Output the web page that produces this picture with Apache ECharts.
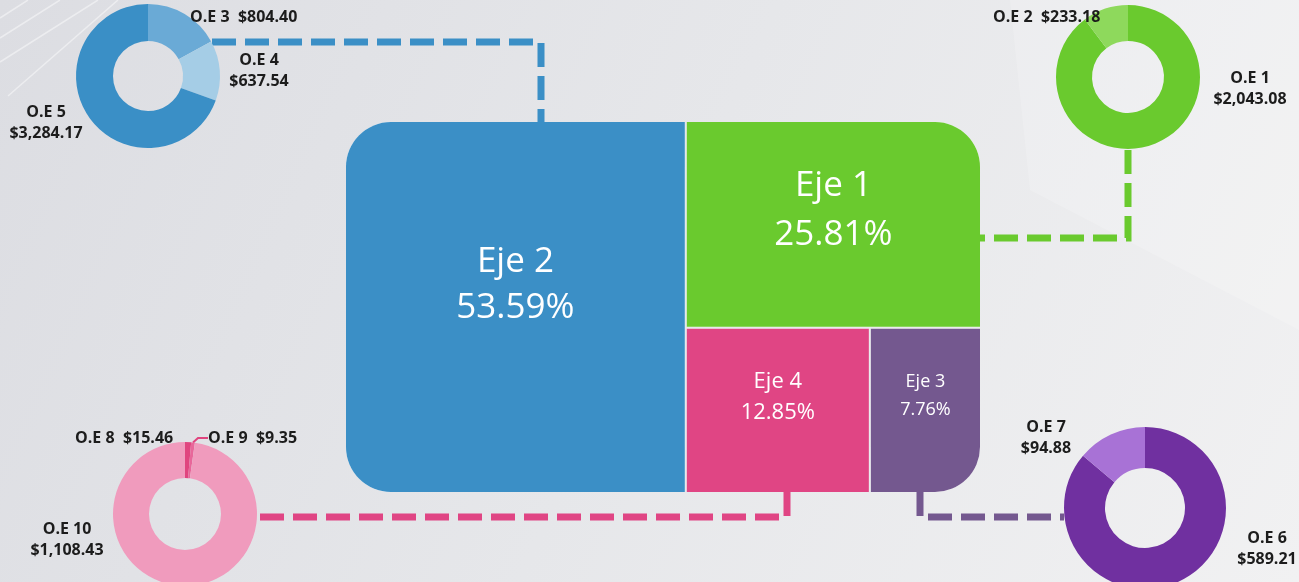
<!DOCTYPE html>
<html>
<head>
<meta charset="utf-8">
<script src="https://cdn.jsdelivr.net/npm/echarts@6/dist/echarts.min.js"></script>
<style>
  html, body { margin: 0; padding: 0; }
  #chart { width: 1299px; height: 582px; }
</style>
</head>
<body>
<div id="chart"></div>
<script>
// ejes (porcentaje del total)
var ejeNames = ['Eje 2', 'Eje 1', 'Eje 4', 'Eje 3'];
var ejeShare = [53.59, 25.81, 12.85, 7.76];
var ejeColors = ['#3b8fc6', '#6aca2e', '#e04584', '#74588f'];

// objetivos estrategicos por eje
var oeEje2Names = ['O.E 3', 'O.E 4', 'O.E 5'];
var oeEje2Values = [804.40, 637.54, 3284.17];
var oeEje1Names = ['O.E 1', 'O.E 2'];
var oeEje1Values = [2043.08, 233.18];
var oeEje4Names = ['O.E 8', 'O.E 9', 'O.E 10'];
var oeEje4Values = [15.46, 9.35, 1108.43];
var oeEje3Names = ['O.E 6', 'O.E 7'];
var oeEje3Values = [589.21, 94.88];

function money(v) {
    return '$' + v.toLocaleString('en-US', {minimumFractionDigits: 2, maximumFractionDigits: 2});
}

var chart = echarts.init(document.getElementById('chart'));

var cornerRadius = {
    'Eje 2': [45, 0, 0, 45],
    'Eje 1': [0, 45, 0, 0],
    'Eje 4': 0,
    'Eje 3': [0, 0, 45, 0]
};
// font size, line height, vertical shift
var labelStyle = {
    'Eje 2': [35, 46, -22],
    'Eje 1': [35, 49, -14],
    'Eje 4': [22, 31, -13],
    'Eje 3': [18, 28, -15]
};

var treeData = ejeNames.map(function(n, i) {
    var s = labelStyle[n];
    return {
        name: n,
        value: ejeShare[i],
        itemStyle: {color: ejeColors[i], borderRadius: cornerRadius[n]},
        label: {fontSize: s[0], lineHeight: s[1], offset: [0, s[2]]}
    };
});

// label placement for each donut (x, y, align)
var labelPos = [
    [[190, 17, 'left'], [259, 71, 'center'], [46, 123, 'center']],
    [[1250, 89, 'center'], [993, 17, 'left']],
    [[75, 438, 'left'], [208, 438, 'left'], [67, 540, 'center']],
    [[1267, 549, 'center'], [1046, 438, 'center']]
];

function pieSeries(idx, names, values, colors, center, r, singleLine) {
    return {
        type: 'pie',
        center: center,
        radius: r,
        startAngle: 90,
        silent: true,
        z: 5,
        data: names.map(function(n, i) {
            return {
                name: n,
                value: values[i],
                itemStyle: {color: colors[i]},
                labelLine: {show: n === 'O.E 9', length: 4, length2: 10, lineStyle: {color: '#e0457f', width: 2}}
            };
        }),
        label: {
            show: true,
            position: 'outside',
            overflow: 'none',
            fontFamily: 'Open Sans',
            fontWeight: 'bold',
            fontSize: 16,
            lineHeight: 21,
            color: '#1c1c1c',
            formatter: function(p) {
                var one = singleLine.indexOf(p.name) >= 0;
                return p.name + (one ? '  ' : '\n') + money(p.value);
            }
        },
        labelLayout: function(params) {
            var p = labelPos[idx][params.dataIndex];
            return {x: p[0], y: p[1], align: p[2], verticalAlign: 'middle'};
        }
    };
}

function dashed(points, color) {
    return {
        type: 'polyline',
        z: 1,
        shape: {points: points},
        style: {stroke: color, lineWidth: 7, lineDash: [24, 9], fill: null}
    };
}

function streak(x1, y1, x2, y2) {
    return {
        type: 'line',
        z: 0,
        silent: true,
        shape: {x1: x1, y1: y1, x2: x2, y2: y2},
        style: {stroke: 'rgba(255,255,255,0.45)', lineWidth: 1.5}
    };
}

option = {
    backgroundColor: new echarts.graphic.LinearGradient(0, 0, 1, 1, [
        {offset: 0, color: '#dcdde2'},
        {offset: 0.5, color: '#e6e7ea'},
        {offset: 1, color: '#f1f1f2'}
    ]),
    graphic: [
        // faint background texture
        streak(0, 62, 98, 0),
        streak(0, 38, 60, 0),
        streak(8, 96, 118, 0),
        streak(0, 18, 28, 0),
        {
            type: 'polygon',
            z: 0,
            silent: true,
            shape: {points: [[1010, 0], [1299, 0], [1299, 330], [1030, 190]]},
            style: {fill: 'rgba(255,255,255,0.18)'}
        },
        dashed([[212, 42], [541, 42], [541, 122]], '#3b8fc6'),
        dashed([[1128, 150], [1128, 238], [980, 238]], '#6aca2e'),
        dashed([[260, 517], [787, 517], [787, 492]], '#e04584'),
        dashed([[920, 492], [920, 517], [1064, 517]], '#74588f')
    ],
    series: [
        {
            type: 'treemap',
            left: 346,
            top: 122,
            width: 634,
            height: 370,
            squareRatio: 1,
            roam: false,
            nodeClick: false,
            silent: true,
            z: 3,
            breadcrumb: {show: false},
            levels: [
                {itemStyle: {borderWidth: 0, gapWidth: 2, borderColor: 'rgba(0,0,0,0)'}}
            ],
            label: {
                show: true,
                position: 'inside',
                color: '#ffffff',
                fontFamily: 'Open Sans',
                formatter: function(p) { return p.name + '\n' + p.value.toFixed(2) + '%'; }
            },
            data: treeData
        },
        pieSeries(0, oeEje2Names, oeEje2Values, ['#6aaad6', '#a5cde6', '#3a8fc6'], [148, 76], [35, 72], ['O.E 3']),
        pieSeries(1, oeEje1Names, oeEje1Values, ['#6aca2e', '#8ed95c'], [1128, 77], [36, 72], ['O.E 2']),
        pieSeries(2, oeEje4Names, oeEje4Values, ['#e0457f', '#e8679a', '#f09bbd'], [185, 514], [36, 72], ['O.E 8', 'O.E 9']),
        pieSeries(3, oeEje3Names, oeEje3Values, ['#7030a0', '#a872d6'], [1145, 508], [40, 81], [])
    ]
};
chart.setOption(option);
</script>
</body>
</html>
